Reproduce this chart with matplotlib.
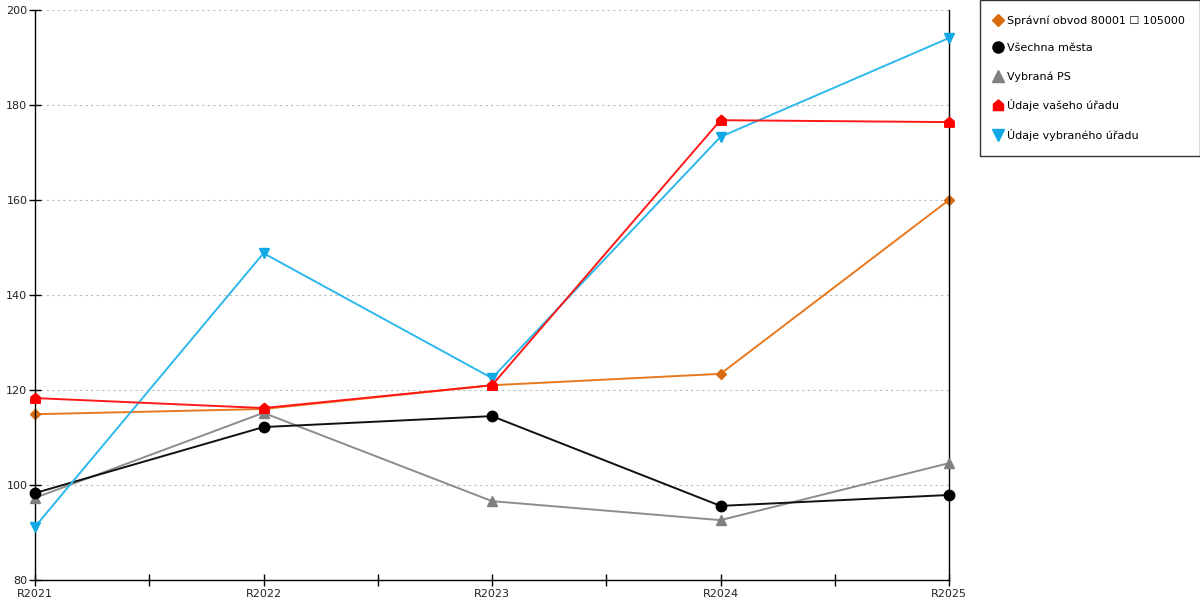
import numpy as np
import matplotlib.pyplot as plt
from matplotlib.path import Path

years = ['R2021', 'R2022', 'R2023', 'R2024', 'R2025']

spravni_obvod = [114.9, 116.0, 121.0, 123.4, 160.0]
vsechna_mesta = [98.3, 112.2, 114.5, 95.6, 97.9]
vybrana_ps = [97.3, 115.2, 96.6, 92.6, 104.6]
vas_urad = [118.3, 116.2, 121.0, 176.8, 176.4]
vybrany_urad = [91.2, 148.8, 122.5, 173.3, 194.1]

labels = ['Správní obvod 80001 ☐ 105000', 'Všechna města', 'Vybraná PS',
          'Údaje vašeho úřadu', 'Údaje vybraného úřadu']

# house-shaped marker for "vaseho uradu"
house = Path([(-1, -1), (1, -1), (1, 0.25), (0, 1.1), (-1, 0.25), (-1, -1)],
             [Path.MOVETO, Path.LINETO, Path.LINETO, Path.LINETO, Path.LINETO, Path.CLOSEPOLY])

# values, line colour, marker colour, marker, size, zorder
series = [
    (spravni_obvod, '#E8781E', '#D96A10', 'D', 5.5, 2),
    (vsechna_mesta, '#111111', '#000000', 'o', 7.5, 4),
    (vybrana_ps, '#8C8C8C', '#808080', '^', 7.5, 3),
    (vas_urad, '#FF1A1A', '#FF0000', house, 7.5, 6),
    (vybrany_urad, '#2CB8EC', '#12A8E6', 'v', 7.5, 5),
]

plt.rcParams['font.family'] = ['DejaVu Sans']

fig = plt.figure(figsize=(12, 6), dpi=100)
ax = fig.add_axes([35 / 1200, 20 / 600, 914 / 1200, 570 / 600])

x = np.arange(len(years))
for vals, lc, mc, mk, ms, z in series:
    ax.plot(x, vals, color=lc, lw=1.4, marker=mk, ms=ms, mfc=mc, mec=mc,
            zorder=z, clip_on=False)

ax.set_xlim(0, 4)
ax.set_ylim(80, 200)
ax.set_xticks(x)
ax.set_xticklabels(years)
ax.set_xticks(x[:-1] + 0.5, minor=True)
ax.set_yticks(np.arange(80, 201, 20))
ax.tick_params(axis='both', which='both', direction='inout', length=9, width=1,
               labelsize=8, color='black', labelcolor='#222222')
ax.tick_params(axis='x', pad=2)
ax.tick_params(axis='y', pad=1)

ax.yaxis.grid(True, color='#BBBBBB', linestyle=(0, (2, 3)), lw=0.8)
ax.set_axisbelow(True)
ax.spines['top'].set_visible(False)
for s in ['left', 'bottom', 'right']:
    ax.spines[s].set_linewidth(1)
    ax.spines[s].set_color('black')

leg_handles = [plt.Line2D([], [], ls='none', marker=mk, ms=ms + 0.5, mfc=mc, mec=mc)
               for vals, lc, mc, mk, ms, z in series]
leg = fig.legend(leg_handles, labels, loc='upper left',
                 bbox_to_anchor=(980 / 1200, 1.0),
                 frameon=True, fancybox=False, edgecolor='black', fontsize=8,
                 handlelength=0.6, handletextpad=0.5, labelspacing=1.6,
                 borderpad=1.35, borderaxespad=0)
leg.get_frame().set_linewidth(1)

fig.savefig('out.png', dpi=100)
